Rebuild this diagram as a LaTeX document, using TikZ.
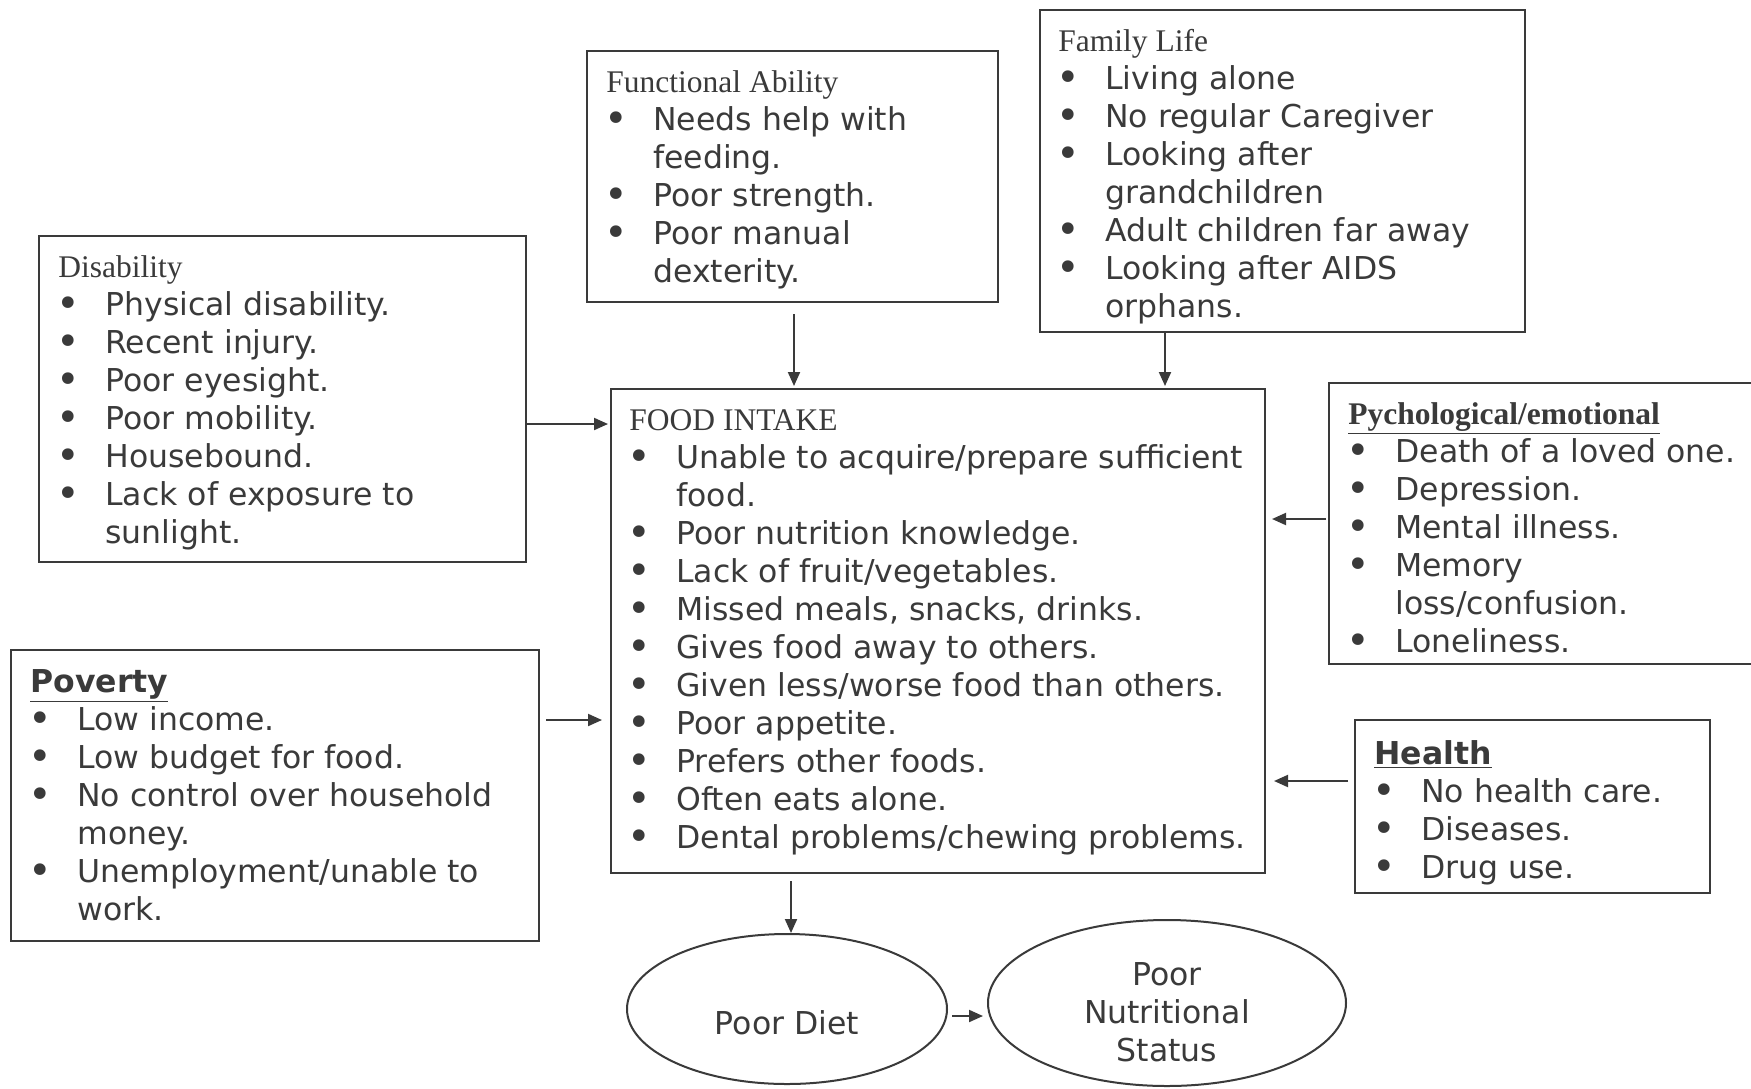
\documentclass[tikz,border=0pt]{standalone}
\usepackage{fontspec}
\setmainfont{DejaVu Sans}
\newfontfamily\hdfont{Liberation Serif}
\usetikzlibrary{arrows.meta,shapes.geometric}
\definecolor{ink}{HTML}{3A3A3A}
\newcommand{\bl}{\makebox[23.5pt][l]{\hspace{-1pt}\raisebox{-1.3pt}{\fontsize{20pt}{19pt}\selectfont\textbullet}}}
\newcommand{\ind}{\hspace{23.5pt}}
\begin{document}
\begin{tikzpicture}[x=0.5pt,y=-0.5pt,
  box/.style={draw=ink, line width=1pt, rectangle, inner sep=0pt},
  oval/.style={draw=ink, line width=1pt, ellipse, inner sep=0pt, align=center, text=ink,
    font=\fontsize{15.75pt}{19pt}\selectfont},
  txt/.style={anchor=base west, inner sep=0pt, text=ink, font=\fontsize{15.75pt}{19pt}\selectfont},
  lbl/.style={inner sep=0pt, align=center, text=ink, font=\fontsize{15.75pt}{19pt}\selectfont},
  arr/.style={draw=ink, line width=1pt, -{Triangle[length=7pt,width=6pt]}}]
\useasboundingbox (0,0) rectangle (1751,1088);
\fill[white] (0,0) rectangle (1751,1088);
\clip (0,0) rectangle (1751,1088);

% boxes
\node[box, minimum width=243.5pt, minimum height=163pt] (dis) at (282.5,399) {};
\node[box, minimum width=205.5pt, minimum height=125.5pt] (fun) at (792.5,176.5) {};
\node[box, minimum width=242.5pt, minimum height=161pt] (fam) at (1282.5,171) {};
\node[box, minimum width=327pt, minimum height=242pt] (food) at (938,631) {};
\node[box, minimum width=215.5pt, minimum height=140.5pt] (psy) at (1544.5,523.5) {};
\node[box, minimum width=177.5pt, minimum height=86.5pt] (hea) at (1532.5,806.5) {};
\node[box, minimum width=264pt, minimum height=145.5pt] (pov) at (275,795.5) {};

% texts
\node[txt] (disT) at ([xshift=10pt,yshift=-21pt]dis.north west) {\begin{tabular}[t]{@{}l@{}}
{\hdfont Disability}\\
\bl Physical disability.\\
\bl Recent injury.\\
\bl Poor eyesight.\\
\bl Poor mobility.\\
\bl Housebound.\\
\bl Lack of exposure to\\
\ind sunlight.
\end{tabular}};

\node[txt] (funT) at ([xshift=10pt,yshift=-21pt]fun.north west) {\begin{tabular}[t]{@{}l@{}}
{\hdfont Functional Ability}\\
\bl Needs help with\\
\ind feeding.\\
\bl Poor strength.\\
\bl Poor manual\\
\ind dexterity.
\end{tabular}};

\node[txt] (famT) at ([xshift=9.5pt,yshift=-21pt]fam.north west) {\begin{tabular}[t]{@{}l@{}}
{\hdfont Family Life}\\
\bl Living alone\\
\bl No regular Caregiver\\
\bl Looking after\\
\ind grandchildren\\
\bl Adult children far away\\
\bl Looking after AIDS\\
\ind orphans.
\end{tabular}};

\node[txt] (foodT) at ([xshift=9.5pt,yshift=-21pt]food.north west) {\begin{tabular}[t]{@{}l@{}}
{\hdfont FOOD INTAKE}\\
\bl Unable to acquire/prepare sufficient\\
\ind food.\\
\bl Poor nutrition knowledge.\\
\bl Lack of fruit/vegetables.\\
\bl Missed meals, snacks, drinks.\\
\bl Gives food away to others.\\
\bl Given less/worse food than others.\\
\bl Poor appetite.\\
\bl Prefers other foods.\\
\bl Often eats alone.\\
\bl Dental problems/chewing problems.
\end{tabular}};

\node[txt] (psyT) at ([xshift=10pt,yshift=-21pt]psy.north west) {\begin{tabular}[t]{@{}l@{}}
{\hdfont\bfseries\underline{Pychological/emotional}}\\
\bl Death of a loved one.\\
\bl Depression.\\
\bl Mental illness.\\
\bl Memory\\
\ind loss/confusion.\\
\bl Loneliness.
\end{tabular}};

\node[txt] (heaT) at ([xshift=10pt,yshift=-22.5pt]hea.north west) {\begin{tabular}[t]{@{}l@{}}
{\bfseries\underline{Health}}\\
\bl No health care.\\
\bl Diseases.\\
\bl Drug use.
\end{tabular}};

\node[txt] (povT) at ([xshift=10pt,yshift=-21.5pt]pov.north west) {\begin{tabular}[t]{@{}l@{}}
{\bfseries\underline{Poverty}}\\
\bl Low income.\\
\bl Low budget for food.\\
\bl No control over household\\
\ind money.\\
\bl Unemployment/unable to\\
\ind work.
\end{tabular}};

% ellipses
\node[oval, minimum width=160pt, minimum height=75pt] (diet) at (787,1009) {};
\node[lbl] (dietT) at ([yshift=-7pt]diet.center) {Poor Diet};
\node[oval, minimum width=179pt, minimum height=83pt] (pns) at (1167,1003) {};
\node[lbl] (pnsT) at ([yshift=-4.5pt]pns.center) {Poor\\Nutritional\\Status};

% connectors
\coordinate (cfun) at (794,0);
\coordinate (cfam) at (1165,0);
\coordinate (cdis) at (0,424);
\coordinate (cpov) at (0,720);
\coordinate (cpsy) at (0,519);
\coordinate (chea) at (0,781);
\coordinate (cdiet) at (791,0);
\coordinate (cpns) at (0,1016);
\draw[arr, shorten <=5.5pt, shorten >=1pt] (fun.south -| cfun) -- (food.north -| cfun);
\draw[arr, shorten >=1pt] (fam.south -| cfam) -- (food.north -| cfam);
\draw[arr, shorten >=1pt] (dis.east |- cdis) -- (food.west |- cdis);
\draw[arr, shorten <=3pt, shorten >=4pt] (pov.east |- cpov) -- (food.west |- cpov);
\draw[arr, shorten <=1pt, shorten >=3pt] (psy.west |- cpsy) -- (food.east |- cpsy);
\draw[arr, shorten <=3pt, shorten >=4pt] (hea.west |- chea) -- (food.east |- chea);
\draw[arr, shorten <=3.5pt] (food.south -| cdiet) -- (diet.north -| cdiet);
\draw[arr, shorten <=2pt, shorten >=2pt] (diet.east |- cpns) -- (pns.west |- cpns);
\end{tikzpicture}
\end{document}
